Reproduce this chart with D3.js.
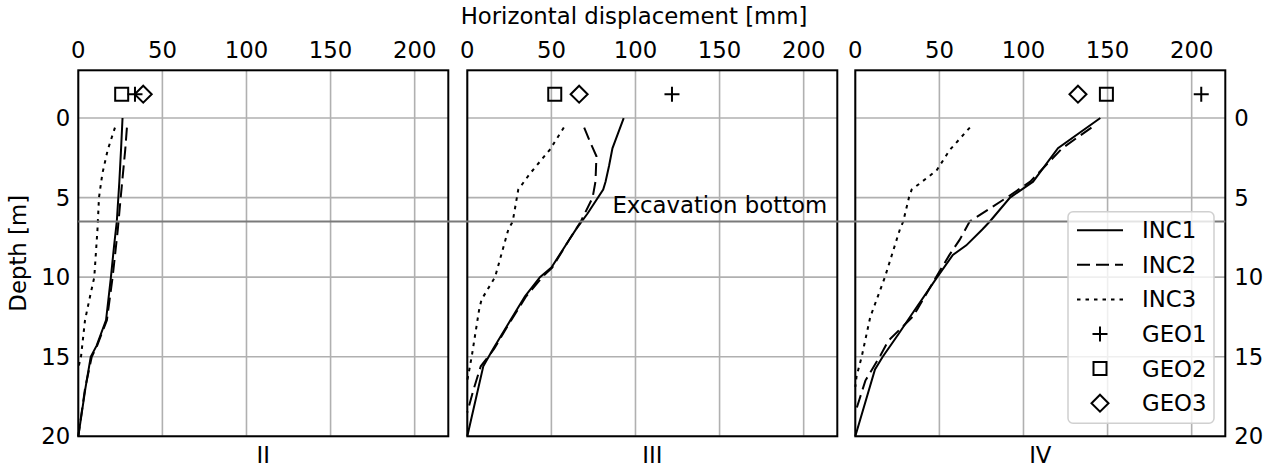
<!DOCTYPE html>
<html>
<head>
<meta charset="utf-8">
<script src="https://cdn.jsdelivr.net/npm/d3@7"></script>
<style>
  body { margin: 0; background: #fff; }
  svg text { font-family: "DejaVu Sans", sans-serif; fill: #000; }
</style>
</head>
<body>
<div id="chart"></div>
<script>
// section names (one panel each)
var panels = ["II", "III", "IV"];
var xTicks = [0, 50, 100, 150, 200];
var depthTicks = [0, 5, 10, 15, 20];
var excavationDepth = 6.5;

// inclinometers: [depth m, displacement mm]
var inc1II = [[0, 26.3], [2, 25.4], [4, 24.4], [6.5, 22.9], [8, 21.3], [10, 19.4], [12.7, 16.5], [14.3, 10.9], [15, 7.4], [17, 4.2], [20, 0]];
var inc2II = [[0.6, 28.9], [2, 27.9], [5, 25.2], [7, 23.5], [10, 20.4], [12.7, 17], [14.3, 11.2], [15, 8], [17, 4], [18.5, 2], [20, 0]];
var inc3II = [[0.6, 21.8], [2, 17.5], [3.5, 14.3], [5, 12.3], [7, 11.4], [10, 9.5], [11.2, 7], [12.7, 4], [15, 1.6], [15.7, 0]];

var inc1III = [[0, 93], [1, 89.5], [1.9, 86.3], [3, 84.3], [4, 82.2], [4.5, 80.8], [6, 71.5], [7, 64.6], [7.66, 60.5], [9.4, 50], [10, 43.2], [11.2, 34.3], [13.1, 23.4], [14.5, 15.4], [15.6, 9.5], [20, 0]];
var inc2III = [[0.6, 69.5], [1.5, 73], [2.4, 76.8], [4, 76.2], [5, 74.5], [6.5, 67.5], [7.66, 60.5], [9.4, 50.5], [10, 44.5], [11.2, 35], [13.1, 23.8], [14.5, 16], [15.6, 8], [17.1, 3.6], [18.5, 0]];
var inc3III = [[0.6, 57.4], [2, 49], [3.5, 37.2], [4.5, 30.3], [6.5, 27], [7, 24.4], [10, 16.5], [11.4, 8.5], [12, 7.1], [15, 2.6], [16.5, 0]];

var inc1IV = [[0, 145.7], [1.9, 120.5], [4, 105.7], [5, 92], [6.5, 80], [7, 75.5], [8, 66], [8.6, 58], [10, 48.7], [12.5, 32.5], [13.6, 25.5], [15, 16.3], [15.8, 11.7], [20, 0]];
var inc2IV = [[0.6, 140.4], [1.9, 123], [4, 104], [5, 90], [6.5, 68], [7.66, 62], [8.6, 56], [10, 48], [12, 37], [12.5, 34], [14, 19.6], [15, 14.5], [16.5, 6], [18.5, 0]];
var inc3IV = [[0.6, 68.1], [2, 56.2], [3.3, 48.3], [4.5, 33.5], [5, 31.9], [6.5, 28.5], [7, 26.5], [10, 17.6], [12.5, 8.9], [15, 3.8], [16.2, 0.8], [16.9, 0]];

// geodetic points, one value per panel, plotted above ground
var geoDepth = -1.5;
var geo1 = [33.7, 121.7, 205.7];
var geo2 = [25.8, 52, 149.3];
var geo3 = [38.6, 66.5, 132.4];

var incData = [[inc1II, inc2II, inc3II], [inc1III, inc2III, inc3III], [inc1IV, inc2IV, inc3IV]];
var incNames = ["INC1", "INC2", "INC3"];
var geoNames = ["GEO1", "GEO2", "GEO3"];
var dashes = [null, "13,6", "3.5,5"];

var W = 1271, H = 470;
var panelW = 370, plotTop = 70.3, panelH = 366;
var lefts = [78.3, 467.3, 855.3];
var fs = 22.8;

var svg = d3.select("#chart").append("svg").attr("width", W).attr("height", H);

var x = d3.scaleLinear().domain([0, 220]).range([0, panelW]);
var y = d3.scaleLinear().domain([-3, 20]).range([0, panelH]);

function markerPath(kind) {
    if (kind == 0) return "M-7.5,0H7.5M0,-7.5V7.5";
    if (kind == 1) return "M-6.5,-6.5H6.5V6.5H-6.5Z";
    return "M0,-8.5L8.5,0L0,8.5L-8.5,0Z";
}

panels.forEach(function(name, p) {
    var g = svg.append("g").attr("transform", "translate(" + lefts[p] + "," + plotTop + ")");

    // grid
    g.append("g").selectAll("line").data(xTicks).enter().append("line")
        .attr("x1", d => x(d)).attr("x2", d => x(d))
        .attr("y1", 0).attr("y2", panelH)
        .attr("stroke", "#b0b0b0").attr("stroke-width", 1.6);
    g.append("g").selectAll("line").data(depthTicks).enter().append("line")
        .attr("x1", 0).attr("x2", panelW)
        .attr("y1", d => y(d)).attr("y2", d => y(d))
        .attr("stroke", "#b0b0b0").attr("stroke-width", 1.6);

    // top axis labels
    g.append("g").selectAll("text").data(xTicks).enter().append("text")
        .attr("x", d => x(d)).attr("y", -12)
        .attr("text-anchor", "middle").style("font-size", fs + "px")
        .text(d => d);

    // y labels left on first, right on last
    if (p == 0) {
        g.append("g").selectAll("text").data(depthTicks).enter().append("text")
            .attr("x", -8).attr("y", d => y(d)).attr("dy", "0.35em")
            .attr("text-anchor", "end").style("font-size", fs + "px")
            .text(d => d);
    }
    if (p == 2) {
        g.append("g").selectAll("text").data(depthTicks).enter().append("text")
            .attr("x", panelW + 9).attr("y", d => y(d)).attr("dy", "0.35em")
            .attr("text-anchor", "start").style("font-size", fs + "px")
            .text(d => d);
    }

    // inclinometer lines
    var line = d3.line().x(d => x(d[1])).y(d => y(d[0]));
    incData[p].forEach(function(s, i) {
        g.append("path").datum(s)
            .attr("d", line)
            .attr("fill", "none").attr("stroke", "#000")
            .attr("stroke-width", 2)
            .attr("stroke-dasharray", dashes[i]);
    });

    // geodetic markers
    [geo1, geo2, geo3].forEach(function(arr, k) {
        g.append("path")
            .attr("transform", "translate(" + x(arr[p]) + "," + y(geoDepth) + ")")
            .attr("d", markerPath(k))
            .attr("fill", "none").attr("stroke", "#000").attr("stroke-width", 2);
    });

    // frame
    g.append("rect").attr("width", panelW).attr("height", panelH)
        .attr("fill", "none").attr("stroke", "#000").attr("stroke-width", 2);

    // section label
    g.append("text").attr("x", panelW / 2).attr("y", panelH + 27)
        .attr("text-anchor", "middle").style("font-size", fs + "px")
        .text(name);
});

// excavation bottom across all panels
var yEx = plotTop + y(excavationDepth);
svg.append("line")
    .attr("x1", lefts[0]).attr("x2", lefts[2] + panelW)
    .attr("y1", yEx).attr("y2", yEx)
    .attr("stroke", "#7a7a7a").attr("stroke-width", 2);
svg.append("text")
    .attr("x", lefts[1] + x(86.3)).attr("y", yEx - 8)
    .style("font-size", fs + "px")
    .text("Excavation bottom");

// titles
svg.append("text").attr("x", 634).attr("y", 24)
    .attr("text-anchor", "middle").style("font-size", fs + "px")
    .text("Horizontal displacement [mm]");
svg.append("text")
    .attr("transform", "translate(26," + (plotTop + panelH / 2) + ") rotate(-90)")
    .attr("text-anchor", "middle").style("font-size", fs + "px")
    .text("Depth [m]");

// legend
var lg = svg.append("g").attr("transform", "translate(1068,211.7)");
lg.append("rect").attr("width", 146).attr("height", 211.6).attr("rx", 5)
    .attr("fill", "#fff").attr("fill-opacity", 0.8)
    .attr("stroke", "#d0d0d0").attr("stroke-width", 1.5);
var rowH = 34.6;
incNames.forEach(function(n, i) {
    var ry = 18.5 + i * rowH;
    lg.append("line").attr("x1", 9).attr("x2", 55).attr("y1", ry).attr("y2", ry)
        .attr("stroke", "#000").attr("stroke-width", 2)
        .attr("stroke-dasharray", dashes[i]);
    lg.append("text").attr("x", 74).attr("y", ry).attr("dy", "0.35em")
        .style("font-size", fs + "px").text(n);
});
geoNames.forEach(function(n, k) {
    var ry = 18.5 + (k + 3) * rowH;
    lg.append("path").attr("transform", "translate(32," + ry + ")")
        .attr("d", markerPath(k))
        .attr("fill", "none").attr("stroke", "#000").attr("stroke-width", 2);
    lg.append("text").attr("x", 74).attr("y", ry).attr("dy", "0.35em")
        .style("font-size", fs + "px").text(n);
});
</script>
</body>
</html>
